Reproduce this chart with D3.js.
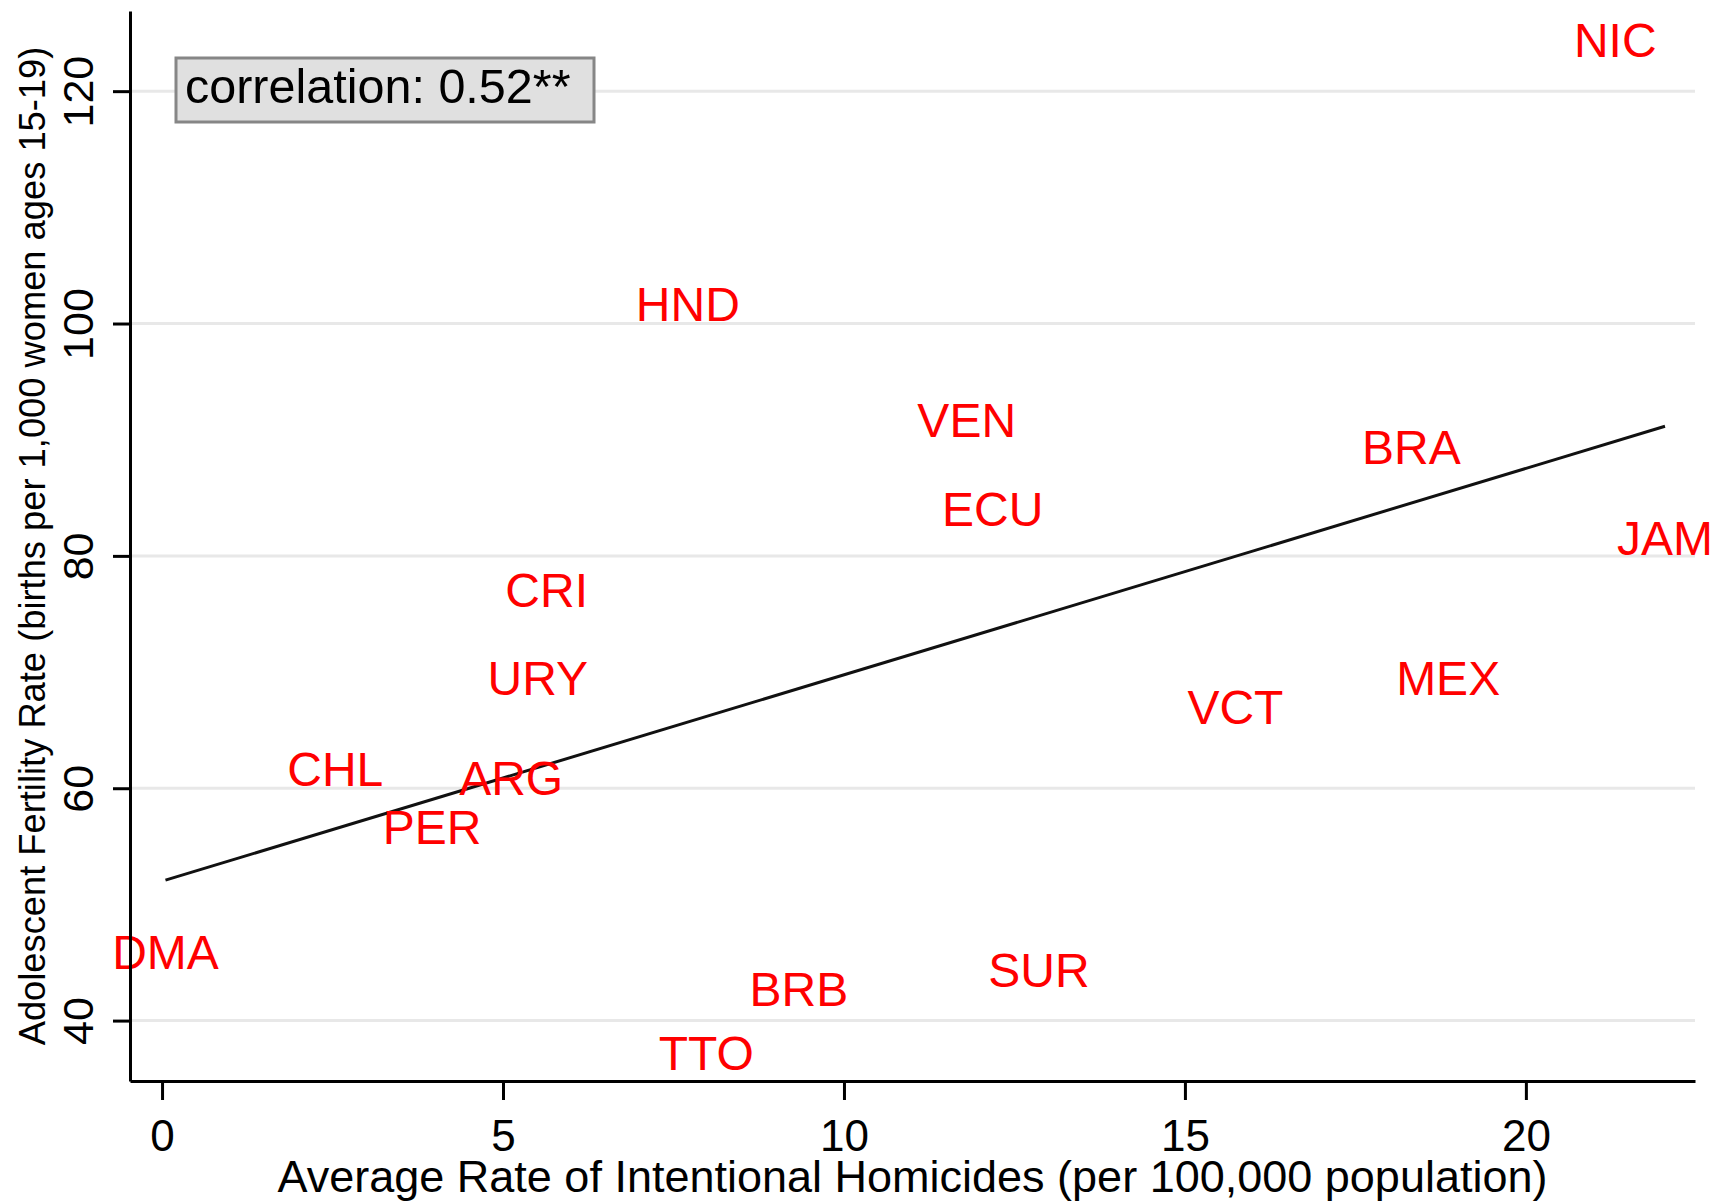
<!DOCTYPE html>
<html>
<head>
<meta charset="utf-8">
<script src="https://cdn.jsdelivr.net/npm/d3@7"></script>
<style>
  body { margin: 0; background: #fff; }
  text { font-family: "Liberation Sans", Arial, Helvetica, sans-serif; }
</style>
</head>
<body>
<div id="chart-area"></div>
<script>
// data
const countries = ["NIC", "HND", "VEN", "BRA", "ECU", "JAM", "CRI", "URY", "MEX",
  "VCT", "CHL", "ARG", "PER", "DMA", "SUR", "BRB", "TTO"]
const homicides = [21.31, 7.71, 11.80, 18.32, 12.18, 22.04, 5.64, 5.51, 18.86,
  15.74, 2.54, 5.12, 3.96, 0.05, 12.86, 9.34, 7.98]
const fertility = [124.4, 101.7, 91.7, 89.4, 84.1, 81.6, 77.1, 69.5, 69.5,
  67.0, 61.7, 60.9, 56.7, 45.9, 44.4, 42.7, 37.2]

const xTicks = [0, 5, 10, 15, 20]
const yTicks = [40, 60, 80, 100, 120]
const corrText = "correlation: 0.52**"

const MARGIN = { LEFT: 130, RIGHT: 33, TOP: 11, BOTTOM: 121 }
const W = 1728, H = 1202
const WIDTH = W - MARGIN.LEFT - MARGIN.RIGHT
const HEIGHT = H - MARGIN.TOP - MARGIN.BOTTOM

const data = countries.map((c, i) => ({ c, x: homicides[i], y: fertility[i] }))

const svg = d3.select("#chart-area").append("svg")
  .attr("width", W)
  .attr("height", H)

const g = svg.append("g")
  .attr("transform", `translate(${MARGIN.LEFT}, ${MARGIN.TOP})`)

// scales (axis limits as in the original)
const x = d3.scaleLinear().domain([-0.47, 22.48]).range([0, WIDTH])
const y = d3.scaleLinear().domain([34.8, 126.9]).range([HEIGHT, 0])

// gridlines
g.selectAll(".grid").data(yTicks).enter().append("line")
  .attr("class", "grid")
  .attr("x1", 0).attr("x2", WIDTH)
  .attr("y1", d => y(d)).attr("y2", d => y(d))
  .attr("stroke", "#e8e8e8")
  .attr("stroke-width", 3)

// linear fit (OLS) over the data range
const mx = d3.mean(data, d => d.x), my = d3.mean(data, d => d.y)
const slope = d3.sum(data, d => (d.x - mx) * (d.y - my)) / d3.sum(data, d => (d.x - mx) ** 2)
const icpt = my - slope * mx
const xr = d3.extent(data, d => d.x)
g.append("path")
  .attr("fill", "none")
  .attr("stroke", "#111")
  .attr("stroke-width", 3)
  .attr("d", d3.line().x(d => x(d)).y(d => y(icpt + slope * d))(xr))

// country labels (marker is the label itself)
g.selectAll(".lab").data(data).enter().append("text")
  .attr("class", "lab")
  .attr("x", d => x(d.x))
  .attr("y", d => y(d.y))
  .attr("dy", "0.36em")
  .attr("text-anchor", "middle")
  .attr("fill", "#ff0000")
  .style("font-size", "48px")
  .text(d => d.c)

// axes
const xAxis = g.append("g")
  .attr("transform", `translate(0, ${HEIGHT})`)
  .call(d3.axisBottom(x).tickValues(xTicks).tickSize(19).tickSizeOuter(0))
const yAxis = g.append("g")
  .call(d3.axisLeft(y).tickValues(yTicks).tickSize(17).tickSizeOuter(0))

svg.selectAll(".domain").attr("stroke", "#000").attr("stroke-width", 3)
svg.selectAll(".tick line").attr("stroke", "#000").attr("stroke-width", 3)

xAxis.selectAll(".tick text")
  .attr("fill", "#000")
  .style("font-size", "44px")
  .attr("y", 70)
  .attr("dy", 0)

yAxis.selectAll(".tick text")
  .attr("fill", "#000")
  .style("font-size", "43px")
  .attr("transform", "rotate(-90)")
  .attr("text-anchor", "middle")
  .attr("x", 0)
  .attr("y", -37)
  .attr("dy", 0)

// axis titles
svg.append("text")
  .attr("x", MARGIN.LEFT + WIDTH / 2)
  .attr("y", 1192)
  .attr("text-anchor", "middle")
  .style("font-size", "45px")
  .text("Average Rate of Intentional Homicides (per 100,000 population)")

svg.append("text")
  .attr("transform", `translate(45, ${MARGIN.TOP + HEIGHT / 2}) rotate(-90)`)
  .attr("text-anchor", "middle")
  .style("font-size", "36.3px")
  .text("Adolescent Fertility Rate (births per 1,000 women ages 15-19)")

// correlation box
svg.append("rect")
  .attr("x", 176).attr("y", 58)
  .attr("width", 418).attr("height", 64)
  .attr("fill", "#e0e0e0")
  .attr("stroke", "#868686")
  .attr("stroke-width", 3)
svg.append("text")
  .attr("x", 185).attr("y", 103)
  .style("font-size", "48.5px")
  .text(corrText)
</script>
</body>
</html>
